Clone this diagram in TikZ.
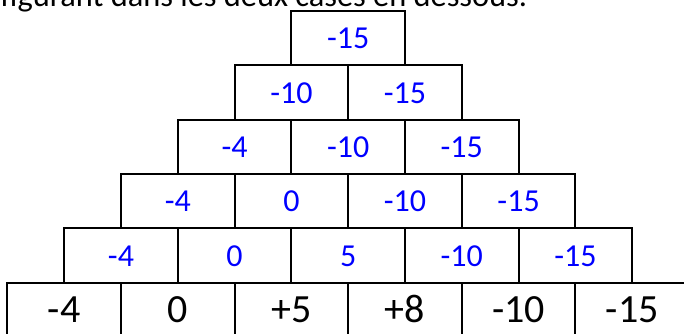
\documentclass[tikz,border=0pt]{standalone}
\usepackage{fontspec}
\setmainfont{Carlito}
\usepackage{xcolor}
\definecolor{pyrblue}{RGB}{0,0,255}

\tikzset{
  cellbase/.style={draw=black, line width=1pt, inner sep=0pt,
    minimum width=56.8pt, minimum height=27.15pt, text depth=0pt},
  bluecell/.style={cellbase, text height=10.8pt, text=pyrblue, font=\fontsize{16}{19}\selectfont},
  blackcell/.style={cellbase, text height=12.6pt, text=black, font=\fontsize{20}{24}\selectfont}
}

\begin{document}
\begin{tikzpicture}[x=0.5pt, y=-0.5pt]
  % ---- Frame of the cut-out ----
  \useasboundingbox (0,0) rectangle (684,333);
  \clip (0,0) rectangle (684,333);

  % Define cell pitch
  \def\cw{113.6}  % cell width
  \def\ch{54.3}   % cell height

  % ---- Instruction line (cut at the top) ----
  \node[anchor=base west, inner sep=0pt, font=\fontsize{16.2}{19}\selectfont] (consigne) at (0,6)
    {figurant dans les deux cases en dessous.};

  % ---- Blue rows of the pyramid ----
  \node[bluecell] (r0c0) at (348.2, 38.15) {-15};
  \foreach \v [count=\j from 0] in {-10,-15}
    \node[bluecell] (r1c\j) at ({348.2+\cw*\j-56.8*1}, {38.15+\ch*1}) {\v};
  \foreach \v [count=\j from 0] in {-4,-10,-15}
    \node[bluecell] (r2c\j) at ({348.2+\cw*\j-56.8*2}, {38.15+\ch*2}) {\v};
  \foreach \v [count=\j from 0] in {-4,0,-10,-15}
    \node[bluecell] (r3c\j) at ({348.2+\cw*\j-56.8*3}, {38.15+\ch*3}) {\v};
  \foreach \v [count=\j from 0] in {-4,0,5,-10,-15}
    \node[bluecell] (r4c\j) at ({348.2+\cw*\j-56.8*4}, {38.15+\ch*4}) {\v};

  % ---- Base row (given numbers) ----
  \foreach \v [count=\j from 0] in {-4,0,+5,+8,-10,-15}
    \node[blackcell] (r5c\j) at ({348.2+\cw*\j-56.8*5}, {38.15+\ch*5}) {\v};

\end{tikzpicture}
\end{document}
